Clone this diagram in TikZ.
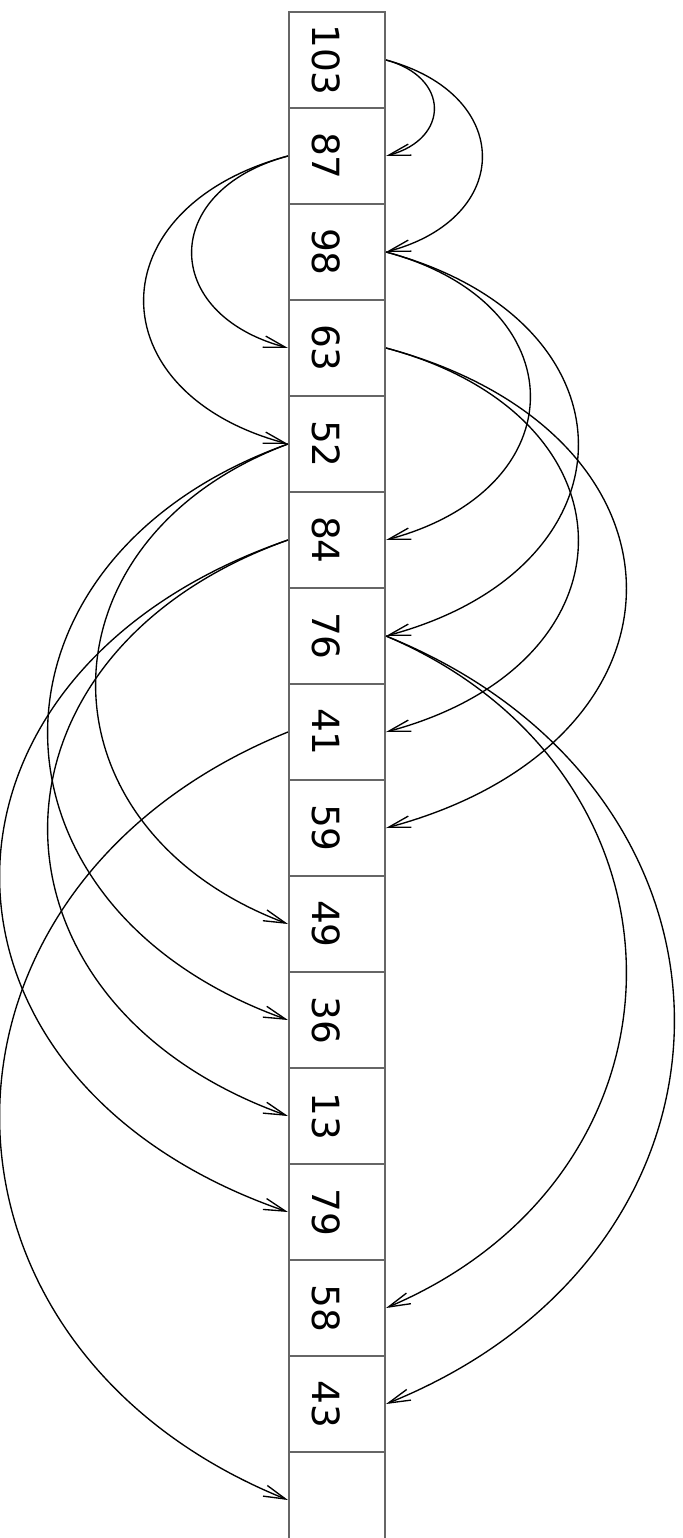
\documentclass[tikz,border=0pt]{standalone}
\usepackage{fontspec}
\setmainfont{DejaVu Sans}
\usetikzlibrary{arrows.meta}

\tikzset{
  cell/.style={draw=black!60, line width=0.6pt, minimum size=1cm, inner sep=0pt},
  celltext/.style={rotate=-90, font=\fontsize{11.1}{13}\selectfont, inner sep=0pt,
    text height=0.52cm, text depth=0pt},
  heaparc/.style={draw=black, line width=0.4pt, -{Straight Barb[length=6.5pt,width=3.4pt]}}
}

\begin{document}
\begin{tikzpicture}

\useasboundingbox (0,0) rectangle (7.1146,-16.0208);

% Tableau du tas
\foreach \v [count=\i] in {103,87,98,63,52,84,76,41,59,49,36,13,79,58,43,{}}{
  \node[cell] (c\i) at (3.5104,{-0.625-(\i-1)}) {};
  \node[celltext] (t\i) at (c\i.center) {\v};
}

% Fleches pere -> fils
\foreach \a/\b/\s/\h in {1/2/r/0.5, 1/3/r/1, 2/4/l/1, 2/5/l/1.5, 3/6/r/1.5,
    3/7/r/2, 4/8/r/2, 4/9/r/2.5, 5/10/l/2, 5/11/l/2.5, 6/12/l/2.5,
    6/13/l/3, 7/14/r/2.5, 7/15/r/3, 8/16/l/3}{
  \pgfmathsetmacro\r{\h/(\b-\a)}
  \pgfmathsetmacro\t{15+(0.5-\r)*56}
  \pgfmathsetmacro\c{\h/(0.75*cos(\t))}
  \if r\s
    \draw[heaparc] (c\a.east) .. controls +(-\t:\c) and +(\t:\c) .. (c\b.east);
  \else
    \draw[heaparc] (c\a.west) .. controls +(180+\t:\c) and +(180-\t:\c) .. (c\b.west);
  \fi
}

\end{tikzpicture}
\end{document}
